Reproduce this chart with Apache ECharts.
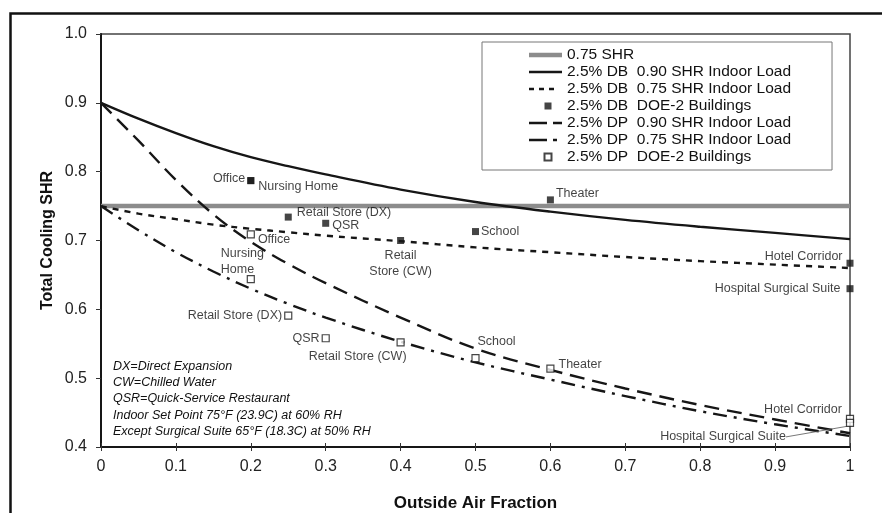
<!DOCTYPE html>
<html>
<head>
<meta charset="utf-8">
<script src="https://cdn.jsdelivr.net/npm/echarts@6/dist/echarts.min.js"></script>
<style>
html, body { margin: 0; padding: 0; background: #fff; }
#chart { width: 882px; height: 513px; }
</style>
</head>
<body>
<div id="chart"></div>
<script>
// outside air fraction where the curves were read
const xCurve = [0, 0.05, 0.1, 0.15, 0.2, 0.25, 0.3, 0.4, 0.5, 0.6, 0.7, 0.8, 0.9, 1];
const shr75 = [0.75, 0.75, 0.75, 0.75, 0.75, 0.75, 0.75, 0.75, 0.75, 0.75, 0.75, 0.75, 0.75, 0.75];
const db90 = [0.900, 0.877, 0.856, 0.837, 0.821, 0.808, 0.796, 0.774, 0.756, 0.742, 0.730, 0.720, 0.711, 0.702];
const db75 = [0.750, 0.739, 0.731, 0.723, 0.717, 0.712, 0.707, 0.699, 0.690, 0.683, 0.676, 0.670, 0.665, 0.660];
const dp90 = [0.900, 0.845, 0.788, 0.738, 0.698, 0.666, 0.638, 0.588, 0.543, 0.512, 0.485, 0.461, 0.440, 0.420];
const dp75 = [0.750, 0.715, 0.683, 0.655, 0.630, 0.608, 0.588, 0.553, 0.523, 0.498, 0.474, 0.452, 0.433, 0.416];

// DOE-2 buildings
const dbNames = ['Office', 'Nursing Home', 'Retail Store (DX)', 'QSR', 'Retail\nStore (CW)', 'School', 'Theater', 'Hotel Corridor', 'Hospital Surgical Suite'];
const dbX = [0.2, 0.2, 0.25, 0.3, 0.4, 0.5, 0.6, 1, 1];
const dbY = [0.787, 0.787, 0.734, 0.725, 0.700, 0.713, 0.759, 0.667, 0.630];

const dpNames = ['Office', 'Nursing\nHome', 'Retail Store (DX)', 'QSR', 'Retail Store (CW)', 'School', 'Theater', 'Hotel Corridor', 'Hospital Surgical Suite'];
const dpX = [0.2, 0.2, 0.25, 0.3, 0.4, 0.5, 0.6, 1, 1];
const dpY = [0.709, 0.644, 0.591, 0.558, 0.552, 0.529, 0.514, 0.441, 0.435];

const yTicks = [0.4, 0.5, 0.6, 0.7, 0.8, 0.9, 1.0];
const xTicks = [0, 0.1, 0.2, 0.3, 0.4, 0.5, 0.6, 0.7, 0.8, 0.9, 1];

const legendNames = [
  '0.75 SHR',
  '2.5% DB  0.90 SHR Indoor Load',
  '2.5% DB  0.75 SHR Indoor Load',
  '2.5% DB  DOE-2 Buildings',
  '2.5% DP  0.90 SHR Indoor Load',
  '2.5% DP  0.75 SHR Indoor Load',
  '2.5% DP  DOE-2 Buildings'
];

const notes = 'DX=Direct Expansion\nCW=Chilled Water\nQSR=Quick-Service Restaurant\nIndoor Set Point 75°F (23.9C) at 60% RH\nExcept Surgical Suite 65°F (18.3C) at 50% RH';

// label placement for each building point
const dbLabelPos = [
  { position: 'left', distance: 2, offset: [0, -2] },
  { position: 'right', distance: 4, offset: [0, 6] },
  { position: 'right', distance: 5, offset: [0, -5] },
  { position: 'right', distance: 3, offset: [0, 2] },
  { position: 'bottom', distance: 4, lineHeight: 16 },
  { position: 'right', distance: 2 },
  { position: 'right', distance: 2, offset: [0, -6] },
  { position: 'left', distance: 4, offset: [0, -7] },
  { position: 'left', distance: 6 }
];
// open squares: shifts go through labelLayout (dx, dy)
const dpLabelPos = [
  { position: 'right', distance: 3, shift: [0, 5] },
  { position: 'top', distance: 1, align: 'left', lineHeight: 16, shift: [-30, 4] },
  { position: 'left', distance: 2, shift: [0, 0] },
  { position: 'left', distance: 2, shift: [0, 0] },
  { position: 'bottom', distance: 4, shift: [-43, 0] },
  { position: 'top', distance: 6, shift: [21, 0] },
  { position: 'right', distance: 4, shift: [0, -4] },
  { position: 'left', distance: 4, shift: [0, -9] },
  { position: 'left', distance: 4, shift: [-56, 14] }
];

const font = 'Liberation Sans, Arial, sans-serif';
const ink = '#161616';
const shrGray = '#8c8c8c';

function curve(ys) {
  return xCurve.map((x, i) => [x, ys[i]]);
}

function points(xs, ys, names, pos) {
  return xs.map((x, i) => {
    const lab = Object.assign({ show: true, formatter: names[i] }, pos[i]);
    delete lab.shift;
    return { value: [x, ys[i]], label: lab };
  });
}

const dpPoints = points(dpX, dpY, dpNames, dpLabelPos);
// leader line for the surgical suite label
dpPoints[8].labelLine = { show: true, lineStyle: { color: '#555', width: 0.8 } };

function lineSeries(name, ys, style) {
  return {
    name: name,
    type: 'line',
    data: curve(ys),
    smooth: 0.35,
    symbol: 'none',
    silent: true,
    itemStyle: { color: style.color || ink },
    lineStyle: Object.assign({ color: ink, width: 2.4, cap: 'butt' }, style),
    z: 3
  };
}

// legend icons drawn as small paths in a 33x14 box
const box = 'path://M0,0M33,14';
const icons = {
  shr: box + 'M0,4.8h33v4.4h-33Z',
  solid: box + 'M0,5.8h33v2.4h-33Z',
  dots: box + 'M0,5.8h5v2.4h-5ZM10,5.8h5v2.4h-5ZM20,5.8h5v2.4h-5Z',
  longDash: box + 'M0,5.8h18v2.4h-18ZM24,5.8h9v2.4h-9Z',
  dashDot: box + 'M0,5.8h18v2.4h-18ZM24,5.8h4v2.4h-4Z',
  square: box + 'M15.5,3.5h7v7h-7Z'
};

var chartDom = document.getElementById('chart');
var myChart = echarts.init(chartDom, null, { renderer: 'canvas' });
var option;

option = {
  animation: false,
  backgroundColor: '#fff',
  textStyle: { fontFamily: font },
  grid: {
    left: 101, right: 32, top: 34, bottom: 66, outerBoundsMode: 'none',
    show: true, borderColor: '#444', borderWidth: 1.5
  },
  xAxis: [
    {
      type: 'value', min: 0, max: 1, interval: 0.1,
      name: 'Outside Air Fraction', nameLocation: 'middle', nameGap: 48,
      nameMoveOverlap: false,
      nameTextStyle: { fontSize: 17, fontWeight: 'bold', color: '#111' },
      axisLine: { show: true, lineStyle: { color: ink, width: 2 } },
      axisTick: { show: true, length: 4, lineStyle: { color: '#333' } },
      axisLabel: {
        fontSize: 16, color: '#222', margin: 12,
        formatter: v => String(+v.toFixed(1))
      },
      splitLine: { show: false }
    },
    {
      type: 'value', min: 0, max: 1, interval: 0.1, position: 'bottom',
      axisLine: { show: false },
      axisTick: { show: true, inside: true, length: 4, lineStyle: { color: '#333' } },
      axisLabel: { show: false },
      splitLine: { show: false }
    }
  ],
  yAxis: {
    type: 'value', min: yTicks[0], max: yTicks[yTicks.length - 1], interval: 0.1,
    name: 'Total Cooling SHR', nameLocation: 'middle', nameGap: 45,
    nameMoveOverlap: false,
    nameTextStyle: { fontSize: 16, fontWeight: 'bold', color: '#111' },
    axisLine: { show: true, lineStyle: { color: ink, width: 2 } },
    axisTick: { show: true, length: 5, lineStyle: { color: '#333' } },
    axisLabel: { fontSize: 16, color: '#222', margin: 14, formatter: v => v.toFixed(1) },
    splitLine: { show: false }
  },
  legend: {
    orient: 'vertical', left: 482, top: 42,
    padding: [5, 41, 5, 46], itemGap: 1, itemWidth: 33, itemHeight: 14,
    backgroundColor: '#fff', borderColor: '#777', borderWidth: 1, borderRadius: 0,
    selectedMode: false,
    textStyle: { fontSize: 15.5, color: '#111', lineHeight: 14 },
    data: [
      { name: legendNames[0], icon: icons.shr, itemStyle: { color: shrGray, borderWidth: 0 } },
      { name: legendNames[1], icon: icons.solid, itemStyle: { color: ink, borderWidth: 0 } },
      { name: legendNames[2], icon: icons.dots, itemStyle: { color: ink, borderWidth: 0 } },
      { name: legendNames[3], icon: icons.square },
      { name: legendNames[4], icon: icons.longDash, itemStyle: { color: ink, borderWidth: 0 } },
      { name: legendNames[5], icon: icons.dashDot, itemStyle: { color: ink, borderWidth: 0 } },
      { name: legendNames[6], icon: icons.square }
    ]
  },
  graphic: [
    {
      type: 'rect', left: 8, top: 11, silent: true, z: 100,
      shape: { width: 900, height: 600 },
      style: { fill: 'none', stroke: '#111', lineWidth: 2.5 }
    },
    {
      type: 'text', left: 113, top: 358, silent: true,
      style: {
        text: notes, font: 'italic 12.5px ' + font, fill: '#111', lineHeight: 16.3
      }
    }
  ],
  series: [
    lineSeries(legendNames[0], shr75, { color: shrGray, width: 4.5 }),
    lineSeries(legendNames[1], db90, {}),
    lineSeries(legendNames[2], db75, { type: [6, 6] }),
    {
      name: legendNames[3],
      type: 'scatter',
      symbol: 'rect', symbolSize: 7,
      itemStyle: { color: ink },
      label: { fontSize: 12.5, color: '#111', fontFamily: font },
      data: points(dbX, dbY, dbNames, dbLabelPos),
      z: 5
    },
    lineSeries(legendNames[4], dp90, { type: [15, 8] }),
    lineSeries(legendNames[5], dp75, { type: [14, 7, 3, 7] }),
    {
      name: legendNames[6],
      type: 'scatter',
      symbol: 'rect', symbolSize: 7,
      itemStyle: { color: '#fff', borderColor: ink, borderWidth: 1.2 },
      label: { fontSize: 12.5, color: '#111', fontFamily: font },
      labelLayout: function (params) {
        const s = dpLabelPos[params.dataIndex].shift;
        return { dx: s[0], dy: s[1] };
      },
      data: dpPoints,
      z: 5
    }
  ]
};

option && myChart.setOption(option);
</script>
</body>
</html>
